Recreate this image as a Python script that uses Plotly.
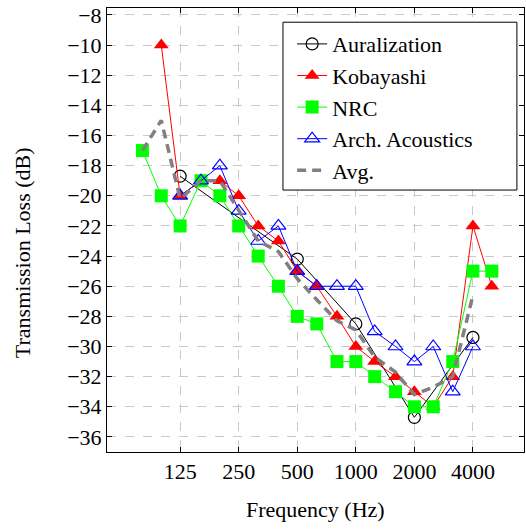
import plotly.graph_objects as go

freq = [80, 100, 125, 160, 200, 250, 315, 400, 500, 630, 800, 1000, 1250, 1600, 2000, 2500, 3150, 4000, 5000]

aur_freq = [125, 500, 1000, 2000, 4000]
aur_vals = [-18.7, -24.2, -28.5, -34.7, -29.4]

kob_freq = [100, 125, 160, 200, 250, 315, 400, 500, 630, 800, 1000, 1250, 1600, 2000, 2500, 3150, 4000, 5000]
kob_vals = [-10, -20, -19, -19, -20, -22, -23, -25, -26, -28, -30, -31, -32, -33, -34, -32, -22, -26]

nrc_freq = freq
nrc_vals = [-17, -20, -22, -19, -20, -22, -24, -26, -28, -28.5, -31, -31, -32, -33, -34, -34, -31, -25, -25]

arch_freq = [125, 160, 200, 250, 315, 400, 500, 630, 800, 1000, 1250, 1600, 2000, 2500, 3150, 4000]
arch_vals = [-20, -19, -18, -21, -23, -22, -25, -26, -26, -26, -29, -30, -31, -30, -33, -30]

avg_freq = [80, 100, 125, 160, 200, 250, 315, 400, 500, 630, 800, 1000, 1250, 1600, 2000, 2500, 3150, 4000]
avg_vals = [-17, -15, -20.2, -19, -19, -21, -23, -23.7, -25.5, -26.9, -28.3, -28.9, -30.7, -31.7, -33.2, -32.7, -32, -26.6]

x_ticks = [125, 250, 500, 1000, 2000, 4000]
x_ticklabels = ["125", "250", "500", "1000", "2000", "4000"]
y_ticks = list(range(-8, -37, -2))
y_ticklabels = ["\u2212" + str(-v) for v in y_ticks]

FONT = "Liberation Serif, Times New Roman, serif"

fig = go.Figure()
fig.add_trace(go.Scatter(x=aur_freq, y=aur_vals, name="Auralization", mode="lines+markers",
                         line=dict(color="black", width=1),
                         marker=dict(symbol="circle-open", size=12, color="black", line=dict(width=1.2))))
fig.add_trace(go.Scatter(x=kob_freq, y=kob_vals, name="Kobayashi", mode="lines+markers",
                         line=dict(color="#ff0000", width=1),
                         marker=dict(symbol="triangle-up", size=13, color="#ff0000")))
fig.add_trace(go.Scatter(x=nrc_freq, y=nrc_vals, name="NRC", mode="lines+markers",
                         line=dict(color="#00ff00", width=1),
                         marker=dict(symbol="square", size=13, color="#00ff00")))
fig.add_trace(go.Scatter(x=arch_freq, y=arch_vals, name="Arch. Acoustics", mode="lines+markers",
                         line=dict(color="#0000ff", width=1),
                         marker=dict(symbol="triangle-up-open", size=13, color="#0000ff", line=dict(width=1.2))))
fig.add_trace(go.Scatter(x=avg_freq, y=avg_vals, name="Avg.", mode="lines",
                         line=dict(color="#808080", width=3.5, dash="9px,6px")))

# Legend frame
fig.add_shape(type="rect", xref="paper", yref="paper", x0=0.422, x1=0.983, y0=0.590, y1=0.968,
              line=dict(color="black", width=1), fillcolor="white", layer="above")

# Axis titles
fig.add_annotation(text="Frequency (Hz)", xref="paper", yref="paper", x=0.501, y=-0.1306,
                   showarrow=False, xanchor="center", yanchor="middle",
                   font=dict(family=FONT, size=22, color="black"))
fig.add_annotation(text="Transmission Loss (dB)", xref="paper", yref="paper", x=-0.204, y=0.45,
                   showarrow=False, xanchor="center", yanchor="middle", textangle=-90,
                   font=dict(family=FONT, size=22, color="black"))

fig.update_layout(
    width=526, height=529,
    margin=dict(l=107, r=2, t=8, b=77),
    paper_bgcolor="white", plot_bgcolor="white",
    font=dict(family=FONT, size=22, color="black"),
    showlegend=True,
    legend=dict(x=0.444, y=0.966, xanchor="left", yanchor="top",
                bgcolor="rgba(0,0,0,0)", borderwidth=0,
                font=dict(family=FONT, size=22, color="black"),
                tracegroupgap=0),
)
fig.update_xaxes(type="log", range=[1.721, 3.8645], automargin=False,
                 tickvals=x_ticks, ticktext=x_ticklabels,
                 ticks="inside", ticklen=5, tickcolor="black",
                 showline=True, linecolor="black", linewidth=1, mirror="ticks",
                 showgrid=True, gridcolor="#c8c8c8", griddash="dash", gridwidth=1,
                 zeroline=False, ticklabeloverflow="allow",
                 tickfont=dict(family=FONT, size=22))
fig.update_yaxes(range=[-37.0, -7.54], automargin=False,
                 tickvals=y_ticks, ticktext=y_ticklabels,
                 ticks="inside", ticklen=5, tickcolor="black",
                 showline=True, linecolor="black", linewidth=1, mirror="ticks",
                 showgrid=True, gridcolor="#c8c8c8", griddash="dash", gridwidth=1,
                 zeroline=False, ticklabeloverflow="allow",
                 tickfont=dict(family=FONT, size=22))

fig.write_html("out.html", config={"displayModeBar": False},
               post_script="document.body.style.margin='0';")
